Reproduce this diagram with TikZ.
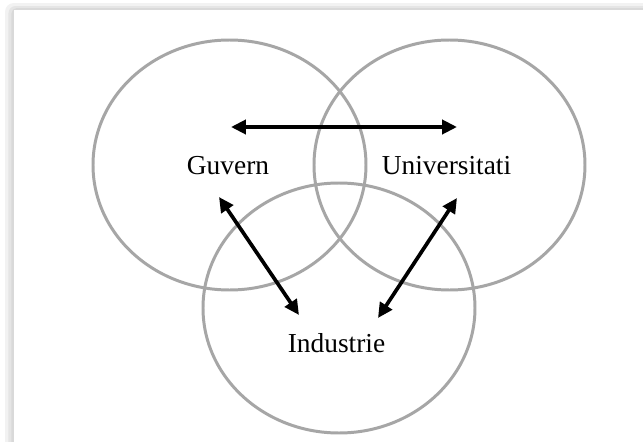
\documentclass[tikz,border=0pt]{standalone}
\usepackage{fontspec}
\setmainfont{Liberation Serif}
\usetikzlibrary{arrows.meta}

\begin{document}
\begin{tikzpicture}[line width=2.1pt, >={Triangle[length=8.5pt, width=8pt]}, font=\fontsize{15.6}{18}\selectfont]
	\useasboundingbox (0, 0) rectangle (12.86, 8.82);
	
	% тень рамки
	\fill[black!5, rounded corners=5pt] (0.1, -0.3) rectangle (13.2, 8.76);
	\fill[black!10, rounded corners=4pt] (0.17, -0.3) rectangle (13.2, 8.70);
	\fill[black!15, rounded corners=3pt] (0.23, -0.3) rectangle (13.2, 8.66);
	\fill[white] (0.28, -0.3) rectangle (13.2, 8.62);
	
	\begin{scope}[color=black!35, line width=1.7pt]
	\draw (4.59, 5.52) ellipse (2.73 and 2.5); % левый круг
	\draw (8.99, 5.52) ellipse (2.71 and 2.5); % правый круг
	\draw (6.78, 2.66) ellipse (2.72 and 2.5); % нижний круг
	\end{scope}
	
	\node[anchor=base] (guvern) at (4.56, 5.34) {Guvern};
	\node[anchor=base] (univ) at (8.93, 5.34) {Universitati};
	\node[anchor=base] (ind) at (6.73, 1.78) {Industrie};
	
	\coordinate (gu) at (4.62, 6.28);
	\coordinate (ug) at (9.14, 6.28);
	\coordinate (gi) at (4.38, 4.88);
	\coordinate (ig) at (5.98, 2.52);
	\coordinate (ui) at (9.14, 4.86);
	\coordinate (iu) at (7.56, 2.46);
	
	\draw[<->] (gu) -- (ug); % Guvern -- Universitati
	\draw[<->] (gi) -- (ig); % Guvern -- Industrie
	\draw[<->] (ui) -- (iu); % Universitati -- Industrie
\end{tikzpicture}
\end{document}
